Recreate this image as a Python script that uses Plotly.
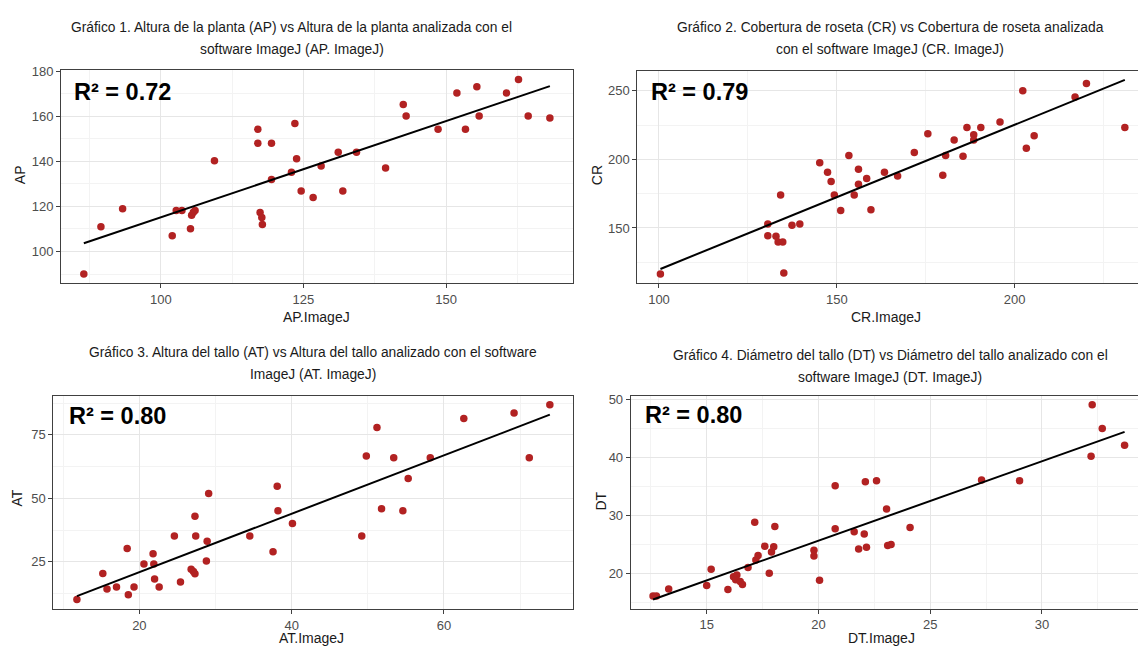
import numpy as np
import plotly.graph_objects as go

W, H = 1138, 647

# ---------------- data ----------------
ap_imagej = [86.5, 89.5, 93.3, 102.0, 102.7, 103.7, 105.2, 105.4, 105.7, 106.0,
             109.4, 117.0, 117.0, 119.4, 117.4, 117.7, 117.8, 119.4, 122.9, 123.5,
             123.8, 124.6, 126.7, 128.1, 131.1, 131.9, 134.3, 139.4, 142.5, 143.0,
             148.6, 151.9, 153.4, 155.4, 155.8, 160.6, 162.7, 164.4, 168.2]
ap = [90, 111, 119, 107, 118.2, 118.2, 110.1, 116.1, 117.4, 118.2,
      140.3, 154.2, 148, 148, 117.3, 115.1, 112, 132, 135.2, 156.8,
      141.2, 126.8, 124, 137.9, 144, 126.8, 144, 137.1, 165.2, 160.1,
      154.2, 170.3, 154.2, 173.1, 160.1, 170.3, 176.3, 160.1, 159.2]

cr_imagej = [100.4, 130.6, 130.6, 132.9, 133.5, 134.8, 134.2, 135.1, 137.4, 139.6,
             145.2, 147.4, 148.4, 149.3, 151.1, 153.4, 154.9, 156.1, 156.1, 158.4,
             159.6, 163.4, 167.1, 171.8, 175.6, 179.8, 180.6, 183.0, 185.5, 186.6,
             188.5, 188.5, 190.5, 195.9, 202.3, 203.3, 205.5, 217.0, 220.2, 231.0]
cr = [116.4, 152.9, 144.4, 143.9, 139.7, 139.7, 174, 117.1, 151.9, 152.9,
      197.6, 190.6, 183.9, 174, 162.7, 202.9, 174, 192.8, 181.8, 186.1,
      163.2, 190.6, 187.9, 205, 218.7, 188.5, 202.9, 214.2, 202.2, 223.3,
      218, 214.2, 223.3, 227.2, 250, 208.1, 217.3, 245.4, 255.3, 223.3]

at_imagej = [11.8, 15.2, 15.75, 17.0, 18.4, 18.55, 19.3, 20.6, 21.8, 21.9,
             22.0, 22.6, 24.6, 25.4, 26.8, 27.1, 27.3, 27.3, 27.4, 28.8,
             28.9, 29.1, 34.5, 37.55, 38.1, 38.2, 40.1, 49.2, 49.8, 51.2,
             51.8, 53.4, 54.6, 55.3, 58.2, 62.6, 69.2, 71.2, 73.9]
at = [10.2, 20.4, 14.3, 15.1, 30.3, 12.1, 15.1, 24.2, 28.2, 24.2,
      18.3, 15.1, 35.2, 17.1, 22.1, 21.2, 20.3, 43, 35.2, 25.4,
      33.1, 51.9, 35.2, 29, 54.8, 45.1, 40.1, 35.2, 66.7, 77.9,
      45.9, 66, 45.1, 57.8, 66, 81.5, 83.6, 66, 86.9]

dt_imagej = [12.6, 12.75, 13.3, 15.0, 15.2, 15.95, 16.2, 16.35, 16.3, 16.5,
             16.6, 16.85, 17.15, 17.2, 17.3, 17.6, 17.8, 17.9, 18.0, 18.05,
             19.8, 19.8, 20.05, 20.75, 20.75, 21.6, 21.8, 22.05, 22.1, 22.15,
             22.6, 23.05, 23.1, 23.25, 24.1, 27.3, 29.0, 32.2, 32.25, 32.7,
             33.7]
dt = [16.1, 16.1, 17.3, 17.9, 20.7, 17.2, 19.4, 19.7, 18.9, 18.6,
      18.1, 21.0, 28.8, 22.3, 23.1, 24.7, 20.0, 23.7, 24.6, 28.1,
      23.0, 24.0, 18.8, 35.1, 27.7, 27.2, 24.2, 26.8, 35.8, 24.5,
      36.0, 31.1, 24.8, 25.0, 27.9, 36.1, 36.0, 40.2, 49.1, 45.0,
      42.1]

titles = [
    ["Gráfico 1. Altura de la planta (AP) vs Altura de la planta analizada con el",
     "software ImageJ (AP. ImageJ)"],
    ["Gráfico 2. Cobertura de roseta (CR) vs Cobertura de roseta analizada",
     "con el software ImageJ (CR. ImageJ)"],
    ["Gráfico 3. Altura del tallo (AT) vs Altura del tallo analizado con el software",
     "ImageJ (AT. ImageJ)"],
    ["Gráfico 4. Diámetro del tallo (DT) vs Diámetro del tallo analizado con el",
     "software ImageJ (DT. ImageJ)"],
]
r2_labels = ["R² = 0.72", "R² = 0.79", "R² = 0.80", "R² = 0.80"]
x_titles = ["AP.ImageJ", "CR.ImageJ", "AT.ImageJ", "DT.ImageJ"]
y_titles = ["AP", "CR", "AT", "DT"]

# ---------------- layout geometry (pixels) ----------------
panels = [
    dict(x=ap_imagej, y=ap, px=(61, 572.7), py=(64, 279.3),
         xr=(82.5, 172.2), yr=(85.9, 180.4), xd=(100, 25, 12.5), yd=(100, 20, 10),
         mirror_y=True, title_cx=291.5, title_y=(20.7, 43.3),
         r2=(72, 86), xt=(316, 313), yt=(20, 170)),
    dict(x=cr_imagej, y=cr, px=(637.3, 1138), py=(64.3, 279.3),
         xr=(93.9, 234.7), yr=(109.7, 264.7), xd=(100, 50, 25), yd=(150, 50, 25),
         mirror_y=False, title_cx=890, title_y=(20.7, 43.3),
         r2=(648.5, 85.5), xt=(886, 313), yt=(597, 170)),
    dict(x=at_imagej, y=at, px=(53.3, 572.7), py=(393.3, 609),
         xr=(8.7, 76.9), yr=(6.3, 90.3), xd=(20, 20, 10), yd=(25, 25, 12.5),
         mirror_y=True, title_cx=313, title_y=(349.5, 372),
         r2=(67.3, 413.3), xt=(311, 638), yt=(17, 497)),
    dict(x=dt_imagej, y=dt, px=(630.7, 1138), py=(393.3, 608.3),
         xr=(11.6, 34.3), yr=(13.9, 50.6), xd=(15, 5, 2.5), yd=(20, 10, 5),
         mirror_y=False, title_cx=890, title_y=(352, 374.5),
         r2=(643.3, 412.3), xt=(881, 638), yt=(601, 500)),
]

FONT = "Liberation Sans, Arial, sans-serif"
fig = go.Figure()
annotations = []
layout_axes = {}

for i, p in enumerate(panels):
    k = "" if i == 0 else str(i + 1)
    xa, ya = "x" + k, "y" + k
    xs = np.array(p["x"], dtype=float)
    ys = np.array(p["y"], dtype=float)
    slope, intercept = np.polyfit(xs, ys, 1)
    xl = np.array([xs.min(), xs.max()])
    fig.add_trace(go.Scatter(x=xs, y=ys, mode="markers", xaxis=xa, yaxis=ya,
                             marker=dict(color="#b22222", size=7.5, line=dict(width=0)),
                             showlegend=False, hoverinfo="x+y"))
    fig.add_trace(go.Scatter(x=xl, y=intercept + slope * xl, mode="lines",
                             xaxis=xa, yaxis=ya, line=dict(color="black", width=2),
                             showlegend=False, hoverinfo="skip"))

    common = dict(showgrid=True, gridcolor="#e6e6e6", gridwidth=1, zeroline=False,
                  showline=True, linecolor="#404040", linewidth=1,
                  ticks="outside", ticklen=4, tickcolor="#404040", tickwidth=1,
                  tickfont=dict(family=FONT, size=13, color="#4d4d4d"),
                  tickmode="linear", fixedrange=True)
    layout_axes["xaxis" + k] = dict(
        common, domain=[p["px"][0] / W, p["px"][1] / W], range=list(p["xr"]),
        tick0=p["xd"][0], dtick=p["xd"][1], anchor=ya, mirror=True,
        minor=dict(tick0=p["xd"][0], dtick=p["xd"][2], showgrid=True,
                   gridcolor="#f3f3f3", gridwidth=0.6))
    layout_axes["yaxis" + k] = dict(
        common, domain=[1 - p["py"][1] / H, 1 - p["py"][0] / H], range=list(p["yr"]),
        tick0=p["yd"][0], dtick=p["yd"][1], anchor=xa, mirror=p["mirror_y"],
        minor=dict(tick0=p["yd"][0], dtick=p["yd"][2], showgrid=True,
                   gridcolor="#f3f3f3", gridwidth=0.6))

    for line, ty in zip(titles[i], p["title_y"]):
        annotations.append(dict(text=line, x=p["title_cx"] / W, y=1 - ty / H,
                                xref="paper", yref="paper", xanchor="center",
                                yanchor="middle", showarrow=False,
                                font=dict(family=FONT, size=13.8, color="#1a1a1a")))
    annotations.append(dict(text="<b>" + r2_labels[i] + "</b>", x=p["r2"][0] / W,
                            y=1 - p["r2"][1] / H, xref="paper", yref="paper",
                            xanchor="left", yanchor="middle", showarrow=False,
                            font=dict(family=FONT, size=23.5, color="black")))
    annotations.append(dict(text=x_titles[i], x=p["xt"][0] / W, y=1 - p["xt"][1] / H,
                            xref="paper", yref="paper", xanchor="center",
                            yanchor="middle", showarrow=False,
                            font=dict(family=FONT, size=14, color="#1a1a1a")))
    annotations.append(dict(text=y_titles[i], x=p["yt"][0] / W, y=1 - p["yt"][1] / H,
                            xref="paper", yref="paper", xanchor="center",
                            yanchor="middle", showarrow=False, textangle=-90,
                            font=dict(family=FONT, size=14, color="#1a1a1a")))

fig.update_layout(width=W, height=H, margin=dict(l=0, r=0, t=0, b=0),
                  paper_bgcolor="white", plot_bgcolor="white",
                  annotations=annotations, **layout_axes)

fig.write_html(
    "out.html",
    config={"displayModeBar": False},
    post_script=(
        "document.documentElement.style.margin='0';"
        "document.body.style.margin='0';document.body.style.padding='0';"
        "document.body.style.overflow='hidden';"
        "var d=document.getElementById('{plot_id}');"
        "d.style.position='absolute';d.style.top='0px';d.style.left='0px';"
    ),
)
